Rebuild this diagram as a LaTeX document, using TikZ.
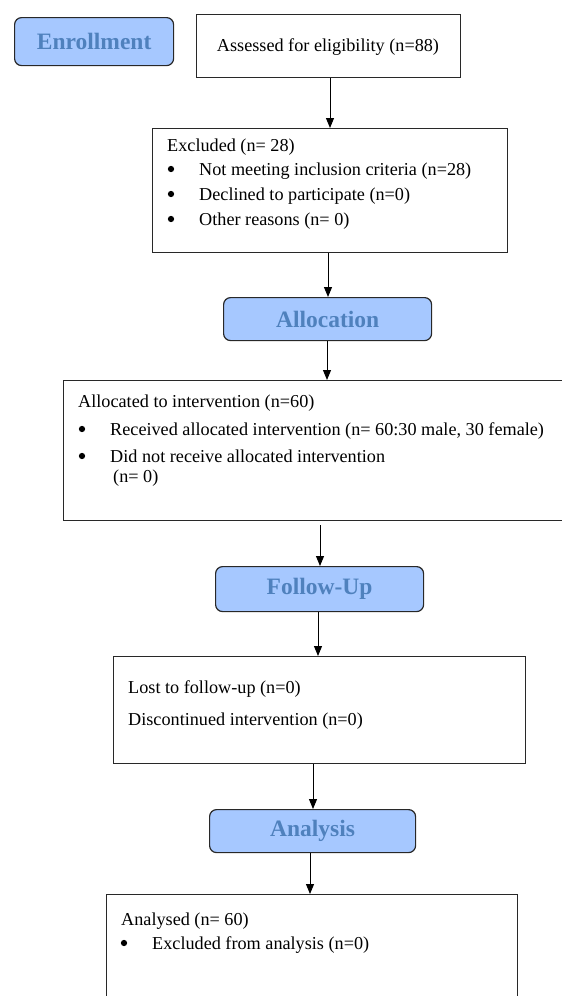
\documentclass[tikz,border=0pt]{standalone}
\usepackage{fontspec}
\setmainfont{Liberation Serif}
\usetikzlibrary{arrows.meta}
\definecolor{labfill}{RGB}{166,200,255}
\definecolor{labtext}{RGB}{79,129,189}
\definecolor{edge}{RGB}{40,40,40}
\tikzset{
  plainbox/.style={draw=edge, line width=1.2pt, anchor=north west, inner sep=0pt},
  labelbox/.style={draw=edge, line width=1.2pt, fill=labfill, rounded corners=7pt,
    anchor=north west, inner sep=0pt, text=labtext,
    font=\fontsize{23.5}{26}\selectfont\bfseries},
  txt/.style={anchor=base west, inner sep=0pt, font=\fontsize{18.2}{21}\selectfont},
  ctxt/.style={txt, anchor=base},
  bulletdot/.style={circle, fill=black, inner sep=0pt, minimum size=6.3pt},
  arr/.style={line width=1pt, -{Triangle[width=8pt,length=10pt]}}
}
\begin{document}
\begin{tikzpicture}[x=1pt,y=-1pt]
\useasboundingbox (0,0) rectangle (562,996);
% boxes
\node[labelbox, minimum width=159pt, minimum height=48pt] (enroll) at (14,17) {Enrollment};
\node[plainbox, minimum width=264pt, minimum height=63pt] (assess) at (196,14) {};
\node[plainbox, minimum width=355pt, minimum height=124pt] (excl) at (152,128) {};
\node[labelbox, minimum width=208pt, minimum height=43pt] (alloc) at (223,297) {Allocation};
\node[plainbox, minimum width=520pt, minimum height=140pt] (allocd) at (63,380) {};
\node[labelbox, minimum width=208pt, minimum height=45pt] (follow) at (215,566) {Follow-Up};
\node[plainbox, minimum width=412pt, minimum height=107pt] (lost) at (113,656) {};
\node[labelbox, minimum width=206pt, minimum height=43pt] (analysis) at (209,809) {Analysis};
\node[plainbox, minimum width=411pt, minimum height=120pt] (analysed) at (106,894) {};
% texts
\node[ctxt] (t1) at (328,51) {Assessed for eligibility (n=88)};
\node[txt] (t2) at (167,151) {Excluded (n= 28)};
\node[bulletdot] (b21) at (171,169) {};
\node[txt] (t21) at (199,175) {Not meeting inclusion criteria (n=28)};
\node[bulletdot] (b22) at (171,194) {};
\node[txt] (t22) at (199,200) {Declined to participate (n=0)};
\node[bulletdot] (b23) at (171,219) {};
\node[txt] (t23) at (199,225) {Other reasons (n= 0)};
\node[txt] (t3) at (78,407) {Allocated to intervention (n=60)};
\node[bulletdot] (b31) at (82,429) {};
\node[txt] (t31) at (110,435) {Received allocated intervention (n= 60:30 male, 30 female)};
\node[bulletdot] (b32) at (82,456) {};
\node[txt] (t32) at (110,462) {Did not receive allocated intervention};
\node[txt] (t33) at (113,482) {(n= 0)};
\node[txt] (t4) at (128,693) {Lost to follow-up (n=0)};
\node[txt] (t41) at (128,725) {Discontinued intervention (n=0)};
\node[txt] (t5) at (121,925) {Analysed (n= 60)};
\node[bulletdot] (b51) at (124,943) {};
\node[txt] (t51) at (152,949) {Excluded from analysis (n=0)};
% connectors
\draw[arr] (330,0 |- assess.south) -- (330,0 |- excl.north);
\draw[arr] (328,0 |- excl.south) -- (328,0 |- alloc.north);
\draw[arr] (327,0 |- alloc.south) -- (327,0 |- allocd.north);
\draw[arr] ([yshift=-4pt]320,0 |- allocd.south) -- (320,0 |- follow.north);
\draw[arr] (318,0 |- follow.south) -- (318,0 |- lost.north);
\draw[arr] (313,0 |- lost.south) -- (313,0 |- analysis.north);
\draw[arr] (310,0 |- analysis.south) -- (310,0 |- analysed.north);
\end{tikzpicture}
\end{document}
